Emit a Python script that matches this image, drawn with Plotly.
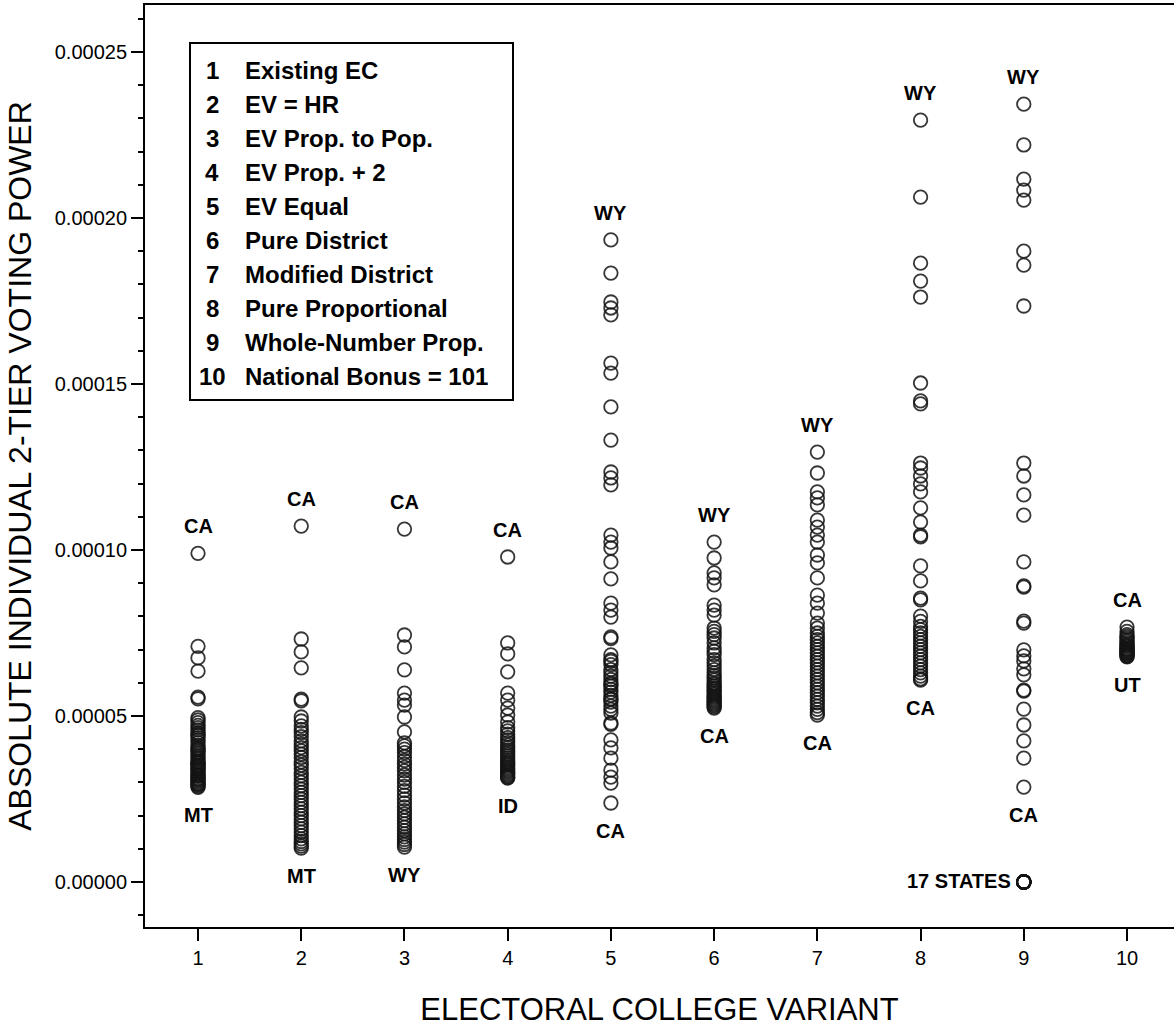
import plotly.graph_objects as go

# ---------------- data (values in units of 1e-5) ----------------
variants = [1, 2, 3, 4, 5, 6, 7, 8, 9, 10]

v1 = [9.9, 7.1, 6.75, 6.35, 5.57, 5.52, 4.95, 4.88, 4.8, 4.72, 4.65, 4.58, 4.5, 4.45,
      4.42, 4.35, 4.28, 4.2, 4.12, 4.05, 4.0, 3.98, 3.92, 3.86, 3.8, 3.75, 3.7, 3.64,
      3.6, 3.58, 3.53, 3.5, 3.48, 3.43, 3.4, 3.38, 3.33, 3.28, 3.23, 3.2, 3.18, 3.13,
      3.1, 3.08, 3.04, 3.0, 2.96, 2.95, 2.92, 2.88, 2.85]
v2 = [10.72, 7.32, 6.93, 6.45, 5.51, 5.46, 4.97, 4.85, 4.7, 4.6, 4.5, 4.38, 4.25, 4.15,
      4.05, 3.95, 3.85, 3.75, 3.62, 3.52, 3.42, 3.3, 3.2, 3.1, 3.0, 2.9, 2.8, 2.7, 2.6,
      2.5, 2.4, 2.3, 2.2, 2.1, 2.0, 1.9, 1.8, 1.7, 1.6, 1.5, 1.4, 1.3, 1.22, 1.15,
      1.08, 1.02]
v3 = [10.63, 7.44, 7.08, 6.39, 5.69, 5.48, 5.33, 4.97, 4.52, 4.19, 4.1, 4.0, 3.9, 3.78,
      3.66, 3.55, 3.45, 3.35, 3.22, 3.1, 3.0, 2.88, 2.75, 2.62, 2.5, 2.38, 2.26, 2.15,
      2.05, 1.95, 1.85, 1.75, 1.65, 1.55, 1.45, 1.36, 1.28, 1.2, 1.13, 1.05]
v4 = [9.79, 7.2, 6.87, 6.33, 5.69, 5.48, 5.24, 5.03, 4.82, 4.65, 4.55, 4.45, 4.35, 4.28,
      4.2, 4.12, 4.05, 3.98, 3.92, 3.86, 3.8, 3.74, 3.68, 3.62, 3.57, 3.52, 3.47, 3.42,
      3.38, 3.34, 3.3, 3.26, 3.22, 3.18, 3.15, 3.13]
v5 = [19.34, 18.34, 17.47, 17.29, 17.08, 15.63, 15.33, 14.31, 13.31, 12.35, 12.17, 11.96,
      10.45, 10.24, 10.06, 9.64, 9.13, 8.4, 8.19, 7.98, 7.38, 7.33, 6.84, 6.7, 6.65, 6.55,
      6.4, 6.3, 6.2, 6.1, 6.0, 5.95, 5.9, 5.8, 5.72, 5.62, 5.52, 5.5, 5.42, 5.3, 5.2,
      5.09, 4.79, 4.75, 4.28, 4.04, 3.73, 3.37, 3.16, 2.98, 2.38]
v6 = [10.24, 9.76, 9.31, 9.16, 8.95, 8.34, 8.19, 8.04, 7.65, 7.55, 7.45, 7.35, 7.2, 7.05,
      6.95, 6.85, 6.7, 6.6, 6.5, 6.4, 6.3, 6.22, 6.15, 6.08, 6.0, 5.95, 5.9, 5.85, 5.8,
      5.75, 5.7, 5.65, 5.6, 5.56, 5.52, 5.48, 5.44, 5.4, 5.36, 5.32, 5.28, 5.24]
v7 = [12.95, 12.32, 11.75, 11.57, 11.36, 10.9, 10.69, 10.45, 10.24, 9.85, 9.61, 9.16,
      8.64, 8.4, 8.1, 7.8, 7.65, 7.5, 7.4, 7.3, 7.2, 7.1, 7.0, 6.9, 6.8, 6.7, 6.6, 6.5,
      6.4, 6.3, 6.2, 6.1, 6.0, 5.9, 5.8, 5.7, 5.6, 5.5, 5.4, 5.3, 5.2, 5.1, 5.03]
v8 = [22.95, 20.63, 18.64, 18.1, 17.62, 15.03, 14.49, 14.4, 12.62, 12.47, 12.23, 11.99,
      11.75, 11.27, 10.84, 10.45, 10.4, 9.52, 9.07, 8.55, 8.5, 8.01, 7.85, 7.7, 7.6, 7.5,
      7.4, 7.3, 7.2, 7.1, 7.0, 6.9, 6.8, 6.7, 6.6, 6.5, 6.4, 6.3, 6.2, 6.12, 6.08]
v9 = [23.43, 22.2, 21.17, 20.84, 20.54, 19.0, 18.58, 17.35, 12.62, 12.23, 11.66, 11.05,
      9.64, 8.92, 8.88, 7.86, 7.8, 6.99, 6.81, 6.66, 6.42, 6.24, 5.78, 5.75, 5.21, 4.73,
      4.25, 3.73, 2.86,
      0, 0, 0, 0, 0, 0, 0, 0, 0, 0, 0, 0, 0, 0, 0, 0, 0]
v10 = [7.68, 7.55, 7.45, 7.4, 7.35, 7.3, 7.25, 7.2, 7.15, 7.12, 7.1, 7.05, 7.02, 7.0,
       6.98, 6.95, 6.92, 6.9, 6.88, 6.85, 6.82, 6.8, 6.78]

series = [v1, v2, v3, v4, v5, v6, v7, v8, v9, v10]

top_labels = ["CA", "CA", "CA", "CA", "WY", "WY", "WY", "WY", "WY", "CA"]
bottom_labels = ["MT", "MT", "WY", "ID", "CA", "CA", "CA", "CA", "CA", "UT"]
zero_label = "17 STATES"

y_tickvals = [0, 5, 10, 15, 20, 25]
y_ticktext = ["0.00000", "0.00005", "0.00010", "0.00015", "0.00020", "0.00025"]

legend_nums = ["1", "2", "3", "4", "5", "6", "7", "8", "9", "10"]
legend_names = ["Existing EC", "EV = HR", "EV Prop. to Pop.", "EV Prop. + 2", "EV Equal",
                "Pure District", "Modified District", "Pure Proportional",
                "Whole-Number Prop.", "National Bonus = 101"]

x_title = "ELECTORAL COLLEGE VARIANT"
y_title = "ABSOLUTE INDIVIDUAL 2-TIER VOTING POWER"

# ---------------- layout constants ----------------
W, H = 1174, 1030
ML, MR, MT, MB = 145, 0, 5, 103
PW, PH = W - ML - MR, H - MT - MB
SANS = "Liberation Sans, Arial, sans-serif"


def px_x(p):
    return (p - ML) / PW


def px_y(p):
    return (H - MB - p) / PH


fig = go.Figure()
for xv, vals in zip(variants, series):
    fig.add_trace(go.Scatter(
        x=[xv] * len(vals), y=vals, mode="markers",
        marker=dict(symbol="circle-open", size=13.5, color="rgba(20,20,20,0.85)",
                    line=dict(width=1.8)),
        showlegend=False, hoverinfo="skip"))

annotations = []
lab_font = dict(family=SANS, size=20, color="black", weight="bold")
for xv, vals, tl, bl in zip(variants, series, top_labels, bottom_labels):
    pos = [v for v in vals if v > 0]
    annotations.append(dict(x=xv, y=max(pos), xref="x", yref="y", text=tl,
                            showarrow=False, yanchor="middle", yshift=27, font=lab_font))
    annotations.append(dict(x=xv, y=min(pos), xref="x", yref="y", text=bl,
                            showarrow=False, yanchor="middle", yshift=-28, font=lab_font))
    if min(vals) == 0:
        annotations.append(dict(x=xv, y=0, xref="x", yref="y", text=zero_label,
                                showarrow=False, xanchor="right", yanchor="middle",
                                xshift=-11, yshift=1, font=lab_font))

leg_font = dict(family=SANS, size=24, color="black", weight="bold")
row0, row_step = 71, 33.9
for i, (n, name) in enumerate(zip(legend_nums, legend_names)):
    yy = px_y(row0 + i * row_step)
    annotations.append(dict(x=px_x(212), y=yy, xref="paper", yref="paper", text=n,
                            showarrow=False, xanchor="center", yanchor="middle",
                            font=leg_font))
    annotations.append(dict(x=px_x(243), y=yy, xref="paper", yref="paper", text=name,
                            showarrow=False, xanchor="left", yanchor="middle",
                            font=leg_font))

shapes = [dict(type="rect", xref="paper", yref="paper",
               x0=px_x(190), x1=px_x(513), y0=px_y(400), y1=px_y(43),
               line=dict(color="black", width=2), fillcolor="white", layer="below")]

fig.update_layout(
    width=W, height=H, autosize=False,
    margin=dict(l=ML, r=MR, t=MT, b=MB, pad=0),
    paper_bgcolor="white", plot_bgcolor="white",
    annotations=annotations, shapes=shapes,
    font=dict(family=SANS, color="black"),
    xaxis=dict(range=[0.4864, 10.455], tickvals=variants, ticks="outside", ticklen=12,
               tickwidth=1.5, tickcolor="black", showline=True, linecolor="black",
               linewidth=2, mirror=True, showgrid=False, zeroline=False,
               automargin=False,
               tickfont=dict(family=SANS, size=20, color="black"),
               title=dict(text=x_title, font=dict(family=SANS, size=31, color="black"),
                          standoff=30)),
    yaxis=dict(range=[-1.355, 26.416], tickvals=y_tickvals, ticktext=y_ticktext,
               ticks="outside", ticklen=12, tickwidth=1.5, tickcolor="black",
               showline=True, linecolor="black", linewidth=2, showgrid=False,
               zeroline=False, automargin=False,
               minor=dict(dtick=1, ticks="outside", ticklen=5, tickwidth=1.5,
                          tickcolor="black", showgrid=False),
               tickfont=dict(family=SANS, size=20, color="black"),
               title=dict(text=y_title, font=dict(family=SANS, size=32, color="black"),
                          standoff=14)),
)

fig.write_html("out.html", config={"displayModeBar": False},
               post_script="document.body.style.margin='0px';document.body.style.padding='0px';")
